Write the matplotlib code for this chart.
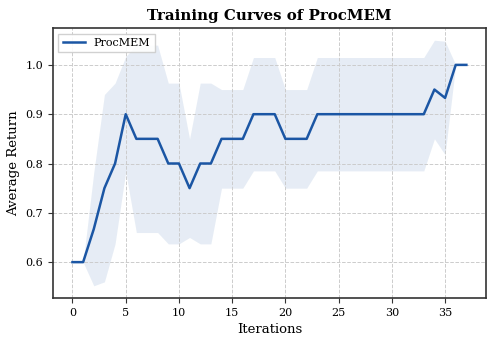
import numpy as np
import matplotlib.pyplot as plt

plt.rcParams['font.family'] = 'DejaVu Serif'

# Data
iterations = list(range(38))
mean_return = [0.6, 0.6, 0.667, 0.75, 0.8, 0.9, 0.85, 0.85, 0.85, 0.8,
               0.8, 0.75, 0.8, 0.8, 0.85, 0.85, 0.85, 0.9, 0.9, 0.9,
               0.85, 0.85, 0.85, 0.9, 0.9, 0.9, 0.9, 0.9, 0.9, 0.9,
               0.9, 0.9, 0.9, 0.9, 0.95, 0.933, 1.0, 1.0]
std_return = [0.0, 0.0, 0.115, 0.19, 0.163, 0.117, 0.19, 0.19, 0.19, 0.163,
              0.163, 0.1, 0.163, 0.163, 0.1, 0.1, 0.1, 0.115, 0.115, 0.115,
              0.1, 0.1, 0.1, 0.115, 0.115, 0.115, 0.115, 0.115, 0.115, 0.115,
              0.115, 0.115, 0.115, 0.115, 0.1, 0.115, 0.0, 0.0]

x = np.array(iterations)
m = np.array(mean_return)
s = np.array(std_return)

fig = plt.figure(figsize=(4.98, 3.45), dpi=100)
ax = fig.add_axes([0.106, 0.136, 0.87, 0.783])

ax.fill_between(x, m - s, m + s, color='#1f5aa6', alpha=0.11, lw=0)
ax.plot(x, m, color='#1b56a4', lw=1.8, label='ProcMEM')

ax.set_title('Training Curves of ProcMEM', fontsize=10.8, fontweight='bold')
ax.set_xlabel('Iterations', fontsize=9.5)
ax.set_ylabel('Average Return', fontsize=9.5)
ax.tick_params(labelsize=8, color='#333333')
ax.grid(True, ls='--', color='#cccccc', lw=0.7)
for sp in ax.spines.values():
    sp.set_color('#333333')
    sp.set_linewidth(1.2)
ax.legend(loc='upper left', fontsize=8, fancybox=False, framealpha=0.9)

fig.savefig('out.png', dpi=100)
